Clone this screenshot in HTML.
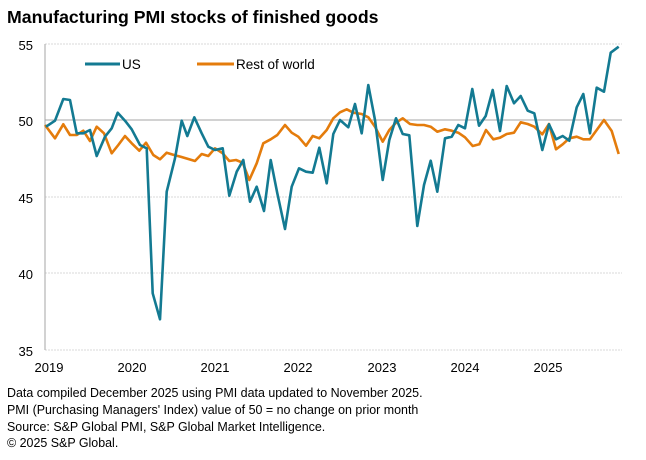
<!DOCTYPE html>
<html><head><meta charset="utf-8"><style>
html,body{margin:0;padding:0;background:#fff;}
svg{display:block;font-family:"Liberation Sans",Arial,sans-serif;}
</style></head><body>
<svg width="646" height="460" viewBox="0 0 646 460">
<text x="7" y="23" font-size="17.7" font-weight="bold" fill="#000">Manufacturing PMI stocks of finished goods</text>
<g stroke="#d9d9d9" stroke-width="1" stroke-dasharray="2,1">
<line x1="45" y1="44" x2="622" y2="44"/>
<line x1="45" y1="197" x2="622" y2="197"/>
<line x1="45" y1="273" x2="622" y2="273"/>
<line x1="45" y1="350" x2="622" y2="350"/>
</g>
<line x1="45" y1="120" x2="622" y2="120" stroke="#a6a6a6" stroke-width="1"/>
<line x1="45" y1="44" x2="45" y2="350" stroke="#a6a6a6" stroke-width="1"/>
<g font-size="13" fill="#000" text-anchor="end">
<text x="33" y="50">55</text>
<text x="33" y="126">50</text>
<text x="33" y="203">45</text>
<text x="33" y="279">40</text>
<text x="33" y="356">35</text>
</g>
<g font-size="13" fill="#000" text-anchor="middle">
<text x="49" y="372">2019</text>
<text x="132" y="372">2020</text>
<text x="215" y="372">2021</text>
<text x="298" y="372">2022</text>
<text x="382" y="372">2023</text>
<text x="465" y="372">2024</text>
<text x="548" y="372">2025</text>
</g>
<line x1="85" y1="64" x2="120" y2="64" stroke="#137a92" stroke-width="3"/>
<text x="122" y="69" font-size="13.5" fill="#000">US</text>
<line x1="197" y1="64" x2="234" y2="64" stroke="#e47c0c" stroke-width="3"/>
<text x="236" y="69" font-size="13.5" fill="#000">Rest of world</text>
<polyline fill="none" stroke="#e47c0c" stroke-width="2.6" stroke-linejoin="round" points="45,125 55,138.3 63.3,124.3 70,135 76.7,135 83.3,130.7 90,141 96.7,126.7 104,133.3 111.7,153.3 118.3,145 125,136 131.7,143.3 139.3,150.7 146,142.7 153.3,155 160,159.3 166.7,152.7 174,155 180.7,156.7 188.3,159 195,161 201.7,154 208.3,156 215,148.3 222.7,153.3 229.3,161 236,160 242.7,162.7 249.3,180 256.7,163.3 263.3,143.3 270.7,139.3 277.3,135 285,125 291.7,132.7 298.3,136.7 306,145.7 312.7,136 319.3,138.3 326.7,130 333.3,118.3 340,112.3 346.7,109.3 353.3,112.7 361.7,114 368.3,117.3 375,126.7 382.7,141.7 389.3,130 396,122.7 402.7,118.3 410,124 417.3,125 424,125 430.7,126.7 437.3,131.7 445,129.3 451.7,130.7 458.3,132.7 465,137.3 472.7,146 479.3,144.3 486,130 493.3,139.3 500,137.7 506.7,134 514,132.7 520.7,122.3 527.7,124 534.3,126.7 542.3,134.3 549,124 556,149.3 562.7,144.3 569.3,138.3 576.7,136.7 583.3,139.3 590,139.3 596.7,130 604,120 611.7,131 618.7,154"/>
<polyline fill="none" stroke="#137a92" stroke-width="2.6" stroke-linejoin="round" points="46,126.7 55,120.7 63.3,99 70,100 76.7,133.3 83.3,133.3 90,130 96.7,156 105,136.7 111.7,128.3 117.7,112.7 125,120.7 131.7,129.3 140,145 146.7,148.3 152.7,293.3 160,319.3 166.7,191.7 175,158.3 181.7,120.7 187.3,136 194.3,117.3 201.7,133.3 208.3,146.7 215,150 222.7,148.3 229.3,195.7 236.7,171.7 243.3,160 250,201.7 256.7,186.7 264,211 270.7,160 277.3,193.3 285,229 291.7,186.7 299,168.3 306,171.7 312.7,172.7 319.3,147.7 326.7,183.3 333.3,134 340,120 348.3,127.3 355,104 361.7,133.3 368.3,85 375,120 382.7,180 389.3,140 396,118.3 402.7,134 409.3,135.3 417.3,226 424,185 430.7,160.7 437.3,191.7 445,138.3 451.7,136.7 458.3,125 465,128.3 472.3,89 479,125.7 485.7,116 492.7,90 500,131 506.7,86 514,103.3 520.7,96 527.7,110.7 534.3,113.3 542.3,150 549,124.3 556,139.3 562.7,136 569.3,140.7 576.7,107.3 583.3,94 590,133.3 596.7,87.7 604,91.7 610.7,52.7 618.7,46.7"/>
<g font-size="12.45" fill="#000">
<text x="7" y="397">Data compiled December 2025 using PMI data updated to November 2025.</text>
<text x="7" y="414">PMI (Purchasing Managers' Index) value of 50 = no change on prior month</text>
<text x="7" y="431">Source: S&amp;P Global PMI, S&amp;P Global Market Intelligence.</text>
<text x="7" y="447">© 2025 S&amp;P Global.</text>
</g>
</svg>
</body></html>
